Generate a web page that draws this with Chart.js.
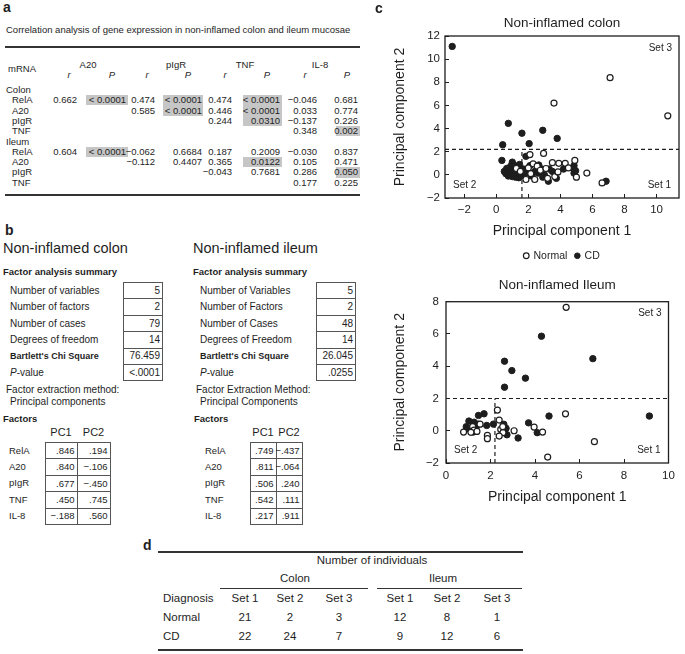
<!DOCTYPE html>
<html>
<head>
<meta charset="utf-8">
<script src="https://cdn.jsdelivr.net/npm/chart.js@4.4.1/dist/chart.umd.min.js"></script>
<style>
  html, body { margin: 0; padding: 0; background: #fff; }
  body { width: 685px; height: 654px; position: relative; overflow: hidden;
         font-family: "Liberation Sans", Arial, sans-serif; color: #1e1e1e; font-size: 9.5px; }
  .t { position: absolute; white-space: nowrap; line-height: 1; }
  .rule { position: absolute; background: #333; }
  .cell { position: absolute; border: 1px solid #555; box-sizing: border-box; }
  .shade { position: absolute; background: #c6c6c6; }
  canvas { position: absolute; }
</style>
</head>
<body>
<canvas id="colon" width="325" height="271" style="left:360px;top:0px"></canvas>
<canvas id="ileum" width="325" height="240" style="left:360px;top:272px"></canvas>
<script>
// ---- a: correlations
const corrGenes = ["RelA", "A20", "pIgR", "TNF"];
const corrCols = ["A20", "pIgR", "TNF", "IL-8"];
const colonR = [[0.662, 0.474, 0.474, -0.046], [null, 0.585, 0.446, 0.033], [null, null, 0.244, -0.137], [null, null, null, 0.348]];
const colonP = [["< 0.0001", "< 0.0001", "< 0.0001", "0.681"], [null, "< 0.0001", "< 0.0001", "0.774"], [null, null, "0.0310", "0.226"], [null, null, null, "0.002"]];
const ileumR = [[0.604, -0.062, 0.187, -0.030], [null, -0.112, 0.365, 0.105], [null, null, -0.043, 0.286], [null, null, null, 0.177]];
const ileumP = [["< 0.0001", "0.6684", "0.2009", "0.837"], [null, "0.4407", "0.0122", "0.471"], [null, null, "0.7681", "0.050"], [null, null, null, "0.225"]];

// ---- b: factor analysis
const summaryLabelsColon = ["Number of variables", "Number of factors", "Number of cases", "Degrees of freedom", "Bartlett's Chi Square", "P-value"];
const summaryLabelsIleum = ["Number of Variables", "Number of Factors", "Number of Cases", "Degrees of Freedom", "Bartlett's Chi Square", "P-value"];
const summaryColon = ["5", "2", "79", "14", "76.459", "<.0001"];
const summaryIleum = ["5", "2", "48", "14", "26.045", ".0255"];
const factorGenes = ["RelA", "A20", "pIgR", "TNF", "IL-8"];
const colonPC1 = [0.846, 0.840, 0.677, 0.450, -0.188];
const colonPC2 = [0.194, -0.106, -0.450, 0.745, 0.560];
const ileumPC1 = [0.749, 0.811, 0.506, 0.542, 0.217];
const ileumPC2 = [-0.437, -0.064, 0.240, 0.111, 0.911];

// ---- c: PCA scores [PC1, PC2]
const colonNormal = [[7.1, 8.4], [10.7, 5.1], [3.6, 6.2], [1.25, 0.55], [1.5, 0.3],
  [1.85, -0.4], [2.1, 1.75], [2.95, 1.85], [2.4, -0.4], [3.65, -0.15], [3.5, 1.05], [3.9, 1.0],
  [3.85, 0.25], [4.3, 1.0], [4.9, 1.25], [5.0, -0.2], [5.65, 0.15], [6.6, -0.7], [2.0, 0.6],
  [2.3, 0.95], [2.55, 0.75], [2.75, 0.4], [3.1, 0.55], [3.2, -0.3], [2.15, 0.1], [4.5, 0.6]];
const colonCD = [[-2.75, 11.1], [0.75, 4.45], [1.6, 3.6], [2.9, 3.85], [3.8, 3.15], [0.4, 2.6], [2.05, 2.7],
  [0.35, 1.25], [0.5, 0.3], [0.6, 0.1], [0.7, 0.25], [0.75, -0.1], [0.8, 0.45], [0.85, 0.0], [0.9, 0.75],
  [0.95, 0.2], [1.0, 1.1], [1.0, -0.15], [1.05, 0.45], [1.1, 0.1], [1.15, 0.8], [1.2, -0.2], [1.25, 0.3],
  [1.3, 0.65], [1.3, 0.0], [1.4, -0.25], [1.4, 0.35], [1.45, 0.9], [1.5, 0.1], [1.55, -0.1], [0.65, 0.55],
  [1.85, 1.6], [1.7, 0.5], [1.9, 0.2], [2.1, 0.8], [2.2, -0.1], [2.4, 0.3], [2.6, 0.15], [2.65, 0.85],
  [2.85, 0.5], [3.0, 0.0], [3.25, -0.55], [3.3, 0.5], [3.75, -0.3], [4.2, 0.5], [4.85, 0.8], [4.85, 0.5],
  [4.85, 0.15], [4.95, 0.35], [6.85, -0.55], [1.75, 0.0], [2.9, -0.2], [3.5, 0.3]];
const ileumNormal = [[5.4, 7.65], [5.37, 1.05], [6.67, -0.68], [4.57, -1.63], [3.96, 0.23], [4.34, -0.08],
  [3.06, 0.0], [2.31, 1.28], [2.39, 0.66], [2.46, 0.08], [2.56, -0.12], [2.39, -0.33], [2.55, 0.25],
  [0.79, -0.08], [1.2, 0.25], [1.26, 0.04], [1.39, -0.04], [1.53, 0.41], [1.86, -0.29], [1.86, -0.49], [1.12, -0.1]];
const ileumCD = [[4.29, 5.86], [6.6, 4.47], [2.63, 4.31], [2.96, 3.73], [3.57, 3.26], [2.63, 2.7],
  [9.14, 0.91], [4.63, 0.91], [3.71, 0.49], [4.1, -0.12], [3.24, -0.45], [2.74, -0.25], [2.6, 0.4], [2.7, 0.15], [2.62, -0.05],
  [1.03, 0.6], [0.91, 0.25], [1.1, 0.04], [1.26, 0.53], [1.44, 0.41], [1.46, 0.95], [1.71, 1.05], [1.83, 0.33],
  [2.13, 0.41], [1.23, -0.08], [0.98, 0.15], [1.35, 0.2]];
const colonCut = [1.6, 2.2];
const ileumCut = [2.2, 2.0];
const colonXTicks = [-2, 0, 2, 4, 6, 8, 10];
const colonYTicks = [-2, 0, 2, 4, 6, 8, 10, 12];
const ileumXTicks = [0, 2, 4, 6, 8, 10];
const ileumYTicks = [-2, 0, 2, 4, 6, 8];

// ---- d: counts
const setLabels = ["Set 1", "Set 2", "Set 3"];
const normalCounts = [21, 2, 3, 12, 8, 1];
const cdCounts = [22, 24, 7, 9, 12, 6];

const ink = "#1e1e1e";
const minus = s => String(s).replace("-", "\u2212");

function put(x, y, s, o = {}) {
  const d = document.createElement("div");
  d.className = "t";
  if (o.html) d.innerHTML = s; else d.textContent = s;
  d.style.left = x + "px";
  d.style.top = y + "px";
  const tx = o.align === "right" ? "-100%" : o.align === "center" ? "-50%" : "0";
  d.style.transform = "translate(" + tx + ",-50%)";
  if (o.size) d.style.fontSize = o.size + "px";
  if (o.bold) d.style.fontWeight = "bold";
  if (o.italic) d.style.fontStyle = "italic";
  document.body.appendChild(d);
}
function rule(x1, x2, y, w) {
  const d = document.createElement("div");
  d.className = "rule";
  d.style.left = x1 + "px"; d.style.width = (x2 - x1) + "px";
  d.style.top = (y - w / 2) + "px"; d.style.height = w + "px";
  document.body.appendChild(d);
}
function rect(cls, x, y, w, h) {
  const d = document.createElement("div");
  d.className = cls;
  d.style.left = x + "px"; d.style.top = y + "px";
  d.style.width = w + "px"; d.style.height = h + "px";
  document.body.appendChild(d);
}

// ================= panel a
put(3, 7, "a", { size: 14, bold: true });
put(6, 30, "Correlation analysis of gene expression in non-inflamed colon and ileum mucosae");
rule(5, 360, 47, 2);
put(8, 69, "mRNA");
const headX = [88, 176, 245, 320];
const rX = [77, 155, 232, 317], rLab = [69, 147, 225, 305];
const pX = [126, 202, 280, 358], pLab = [112, 188, 267, 347];
const shadeX = [[86, 128], [163, 203], [243, 282], [336, 360]];
corrCols.forEach((c, j) => {
  put(headX[j], 65, c, { align: "center" });
  put(rLab[j], 75, "r", { align: "center", italic: true });
  put(pLab[j], 75, "P", { align: "center", italic: true });
});
function corrBlock(name, y0, R, P) {
  put(6, y0, name);
  corrGenes.forEach((g, i) => {
    const y = y0 + 10.3 * (i + 1);
    put(12, y, g);
    for (let j = i; j < 4; j++) {
      const p = P[i][j];
      const sig = p.startsWith("<") || parseFloat(p) <= 0.05;
      if (sig) rect("shade", shadeX[j][0], y - 5.15, shadeX[j][1] - shadeX[j][0], 10.3);
      put(rX[j], y, minus(R[i][j].toFixed(3)), { align: "right" });
      put(pX[j], y, p, { align: "right" });
    }
  });
}
corrBlock("Colon", 90, colonR, colonP);
corrBlock("Ileum", 141.5, ileumR, ileumP);
rule(5, 360, 195, 2);

// ================= panel b
put(5, 230, "b", { size: 14, bold: true });
function summary(x0, labels, vals, boxX, title, m1, m2, fx) {
  put(x0 - 7, 248, title, { size: 14.5 });
  put(x0 - 7, 272, "Factor analysis summary", { bold: true });
  labels.forEach((l, i) => {
    const y = 282 + 16.4 * i;
    rect("cell", boxX, y, 40, 17.4);
    const bart = l.startsWith("Bartlett");
    const lab = l === "P-value" ? "<i>P</i>-value" : l;
    put(x0, y + 8.7, lab, { size: bart ? 9 : 10, html: true, bold: bart });
    put(boxX + 37, y + 8.7, vals[i], { align: "right", size: 10 });
  });
  put(x0 - 4, 390, m1, { size: 10 });
  put(x0, 401.5, m2, { size: 10 });
  put(fx, 419, "Factors", { bold: true });
}
summary(10, summaryLabelsColon, summaryColon, 123, "Non-inflamed colon", "Factor extraction method:", "Principal components", 3);
summary(200, summaryLabelsIleum, summaryIleum, 316, "Non-inflamed ileum", "Factor Extraction Method:", "Principal Components", 194);
const fmtLoad = v => (v < 0 ? "\u2212" : "") + Math.abs(v).toFixed(3).slice(1);
function loadings(labX, cx, cw, pc1, pc2) {
  put(cx[0] + cw[0] / 2, 432, "PC1", { align: "center", size: 11 });
  put(cx[1] + cw[1] / 2, 432, "PC2", { align: "center", size: 11 });
  factorGenes.forEach((g, i) => {
    const y = 442 + 16.4 * i;
    put(labX, y + 8.5, g);
    [pc1, pc2].forEach((col, k) => {
      rect("cell", cx[k], y, cw[k] + 1, 17.4);
      put(cx[k] + cw[k] - 2.5, y + 8.7, fmtLoad(col[i]), { align: "right" });
    });
  });
}
loadings(9, [45, 77], [32, 33], colonPC1, colonPC2);
loadings(205, [250, 276], [26, 26], ileumPC1, ileumPC2);

// ================= panel d
put(143, 545, "d", { size: 14, bold: true });
rule(158, 523, 551.7, 2);
put(372, 561, "Number of individuals", { align: "center", size: 11.5 });
put(295, 579, "Colon", { align: "center", size: 11.5 });
put(443, 579, "Ileum", { align: "center", size: 11.5 });
rule(220, 368, 588, 1);
rule(377, 522, 588, 1);
put(163, 599, "Diagnosis", { size: 11.5 });
const dX = [245, 290, 339, 400, 447, 497];
dX.forEach((x, k) => put(x, 599, setLabels[k % 3], { align: "center", size: 11.5 }));
put(163, 618, "Normal", { size: 11.5 });
put(163, 637, "CD", { size: 11.5 });
normalCounts.forEach((v, k) => put(dX[k], 618, String(v), { align: "center", size: 11.5 }));
cdCounts.forEach((v, k) => put(dX[k], 637, String(v), { align: "center", size: 11.5 }));
rule(158, 523, 650, 2);

// ================= panel c (Chart.js)
put(375, 8, "c", { size: 14, bold: true });
Chart.defaults.font.family = '"Liberation Sans", Arial, sans-serif';
Chart.defaults.color = ink;

const frameSets = {
  id: "frameSets",
  afterDatasetsDraw(chart) {
    const { ctx, chartArea: a } = chart;
    ctx.save();
    ctx.strokeStyle = ink;
    ctx.lineWidth = 1.3;
    ctx.strokeRect(a.left, a.top, a.right - a.left, a.bottom - a.top);
    ctx.fillStyle = ink;
    ctx.font = '10px "Liberation Sans", Arial, sans-serif';
    ctx.textBaseline = "middle";
    ctx.textAlign = "right";
    ctx.fillText(setLabels[2], a.right - 7, a.top + 12);
    ctx.fillText(setLabels[0], a.right - 8, a.bottom - 13);
    ctx.textAlign = "left";
    ctx.fillText(setLabels[1], a.left + 8, a.bottom - 13);
    ctx.restore();
  }
};

const tickFmt = v => (v < 0 ? "\u2212" + (-v) : String(v));

function pcaChart(id, title, normal, cd, cut, xr, yr, xt, yt, lay) {
  const pts = arr => arr.map(p => ({ x: p[0], y: p[1] }));
  const dash = { showLine: true, borderColor: ink, borderWidth: 1.2, borderDash: [4, 3], pointRadius: 0, fill: false };
  const axisGrid = { drawOnChartArea: false, drawTicks: true, tickLength: -4, color: ink, lineWidth: 1 };
  return new Chart(document.getElementById(id), {
    type: "scatter",
    data: {
      datasets: [
        { label: "Normal", data: pts(normal), pointStyle: "circle", pointRadius: 3, backgroundColor: "#fff", borderColor: ink, borderWidth: 1.2 },
        { label: "CD", data: pts(cd), pointStyle: "circle", pointRadius: 3.2, backgroundColor: ink, borderColor: ink, borderWidth: 1 },
        Object.assign({ label: "h", data: [{ x: xr[0], y: cut[1] }, { x: xr[1], y: cut[1] }] }, dash),
        Object.assign({ label: "v", data: [{ x: cut[0], y: yr[0] }, { x: cut[0], y: cut[1] }] }, dash)
      ]
    },
    options: {
      responsive: false,
      animation: false,
      devicePixelRatio: 1,
      layout: { padding: { left: 0, right: 6, top: 0, bottom: 0 } },
      plugins: {
        tooltip: { enabled: false },
        title: { display: true, text: title, fullSize: false, color: ink,
                 font: { size: 13.5, weight: "normal" }, padding: { top: lay.tTop, bottom: lay.tBottom } },
        legend: {
          display: lay.legend, position: "bottom", fullSize: false,
          labels: { usePointStyle: true, boxWidth: 4, boxHeight: 4, padding: 8, color: ink, font: { size: 10.5 },
                    filter: item => item.text === "Normal" || item.text === "CD" }
        }
      },
      scales: {
        x: {
          type: "linear", min: xr[0], max: xr[1], bounds: "data",
          afterBuildTicks: s => { s.ticks = xt.map(v => ({ value: v })); },
          ticks: { autoSkip: false, maxRotation: 0, padding: lay.xTickPad,
                   font: { size: 11.5 }, color: ink, callback: tickFmt },
          grid: axisGrid, border: { display: false },
          title: { display: true, text: "Principal component 1", color: ink, font: { size: 14 },
                   padding: { top: 0, bottom: lay.xTitlePad } },
          afterFit: s => { s.height = lay.xHeight; }
        },
        y: {
          type: "linear", min: yr[0], max: yr[1], bounds: "data",
          afterBuildTicks: s => { s.ticks = yt.map(v => ({ value: v })); },
          ticks: { autoSkip: false, padding: lay.yTickPad,
                   font: { size: 11.5 }, color: ink, callback: tickFmt },
          grid: axisGrid, border: { display: false },
          title: { display: true, text: "Principal component 2", color: ink, font: { size: 14 },
                   padding: { top: lay.yTitlePad, bottom: 0 } },
          afterFit: s => { s.width = lay.yWidth; }
        }
      }
    },
    plugins: [frameSets]
  });
}

pcaChart("colon", "Non-inflamed colon", colonNormal, colonCD, colonCut, [-3.2, 11.4], [-2, 12], colonXTicks, colonYTicks,
  { legend: true, tTop: 15, tBottom: 4.8, xTickPad: 9.1, xTitlePad: 3.1, xHeight: 44.5, yTickPad: 9, yTitlePad: 31.6, yWidth: 85 });
pcaChart("ileum", "Non-inflamed Ileum", ileumNormal, ileumCD, ileumCut, [0, 10], [-2, 8], ileumXTicks, ileumYTicks,
  { legend: false, tTop: 4.9, tBottom: 8.6, xTickPad: 10.1, xTitlePad: 6.6, xHeight: 49, yTickPad: 11, yTitlePad: 31.6, yWidth: 86 });
</script>
</body>
</html>
